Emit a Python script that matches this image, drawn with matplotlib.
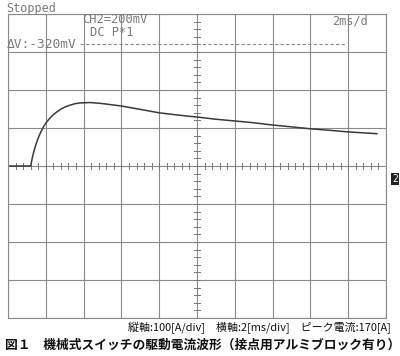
import matplotlib
matplotlib.use("Agg")
import matplotlib.pyplot as plt
import numpy as np

# waveform samples (time in ms, current in A)
time_ms = [0.0, 1.20, 1.28, 1.36, 1.45, 1.55, 1.65, 1.78, 1.90, 2.00, 2.20, 2.40,
           2.60, 2.84, 3.05, 3.28, 3.55, 3.81, 4.34, 4.87, 5.98, 7.00, 7.99,
           9.00, 10.16, 11.00, 11.90, 12.96, 13.97, 15.00, 15.98, 17.00, 17.94, 19.52]
current_a = [0, 0, 20, 37, 52, 67, 80, 94, 105, 113, 125, 135,
             143, 151, 156, 160, 164, 166, 167, 165, 158, 149, 140,
             134, 128, 123, 119, 114, 108, 103, 98, 94, 90, 85]

x_div = 2      # ms/div
y_div = 100    # A/div
n_xdiv = 10
n_ydiv = 8

caption_axes = "縦軸:100[A/div]　横軸:2[ms/div]　ピーク電流:170[A]"
caption_title = "図１　機械式スイッチの駆動電流波形（接点用アルミブロック有り）"

plt.rcParams['font.family'] = ['Noto Sans CJK JP', 'DejaVu Sans']

fig = plt.figure(figsize=(4.0, 3.56), dpi=100)
fig.patch.set_facecolor('white')
ax = fig.add_axes([8/400, 1-318/356, (386-8)/400, (318-14)/356])
xmax = x_div * n_xdiv
ymax = y_div * n_ydiv / 2
ax.set_xlim(0, xmax)
ax.set_ylim(-ymax, ymax)
ax.set_xticks(np.arange(0, xmax + 0.01, x_div))
ax.set_yticks(np.arange(-ymax, ymax + 0.01, y_div))
ax.tick_params(length=0, labelbottom=False, labelleft=False)
ax.grid(True, color='#8a8a8a', lw=0.8)
for s in ax.spines.values():
    s.set_color('#8a8a8a')
    s.set_linewidth(0.8)
ax.set_facecolor('white')

# minor ticks on centre lines
xc = xmax / 2
for t in np.arange(0, xmax + 0.01, x_div / 5):
    ax.plot([t, t], [-8, 8], color='#777777', lw=0.7)
for v in np.arange(-ymax, ymax + 0.01, y_div / 5):
    ax.plot([xc - 0.15, xc + 0.15], [v, v], color='#777777', lw=0.7)

# delta V cursor
ax.plot([3.81, 17.83], [321, 321], color='#8a8a8a', lw=0.8, ls=(0, (3, 2)))

# waveform
ax.plot(time_ms, current_a, color='#3a3a3a', lw=1.1)

mono = 'DejaVu Sans Mono'
tc = '#7a7a7a'
fig.text(6/400, 1-12/356, "Stopped", family=mono, fontsize=8.5, color=tc, va='baseline')
fig.text(82/400, 1-23/356, "CH2=200mV", family=mono, fontsize=8.7, color=tc, va='baseline')
fig.text(90/400, 1-36/356, "DC P*1", family=mono, fontsize=8.7, color=tc, va='baseline')
fig.text(7/400, 1-48/356, "ΔV:-320mV", family=mono, fontsize=9.3, color=tc, va='baseline')
fig.text(332/400, 1-25/356, "2ms/d", family=mono, fontsize=8.6, color=tc, va='baseline')
fig.text(395/400, 1-179/356, "2", family=mono, fontsize=7, color='white', ha='center', va='center',
         bbox=dict(boxstyle='square,pad=0.1', fc='#222222', ec='none'))

fig.text(391/400, 1-328/356, caption_axes, fontsize=7.9, ha='right', va='center', color='#111111')
fig.text(5/400, 1-345/356, caption_title, fontsize=9.2, ha='left', va='center', fontweight='bold', color='#111111')

fig.savefig("out.png", dpi=100, facecolor='white')
